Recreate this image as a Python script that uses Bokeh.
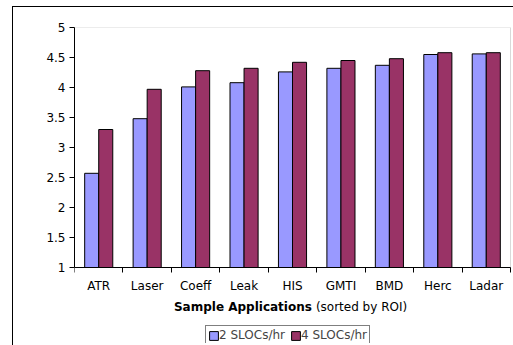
from bokeh.plotting import figure
from bokeh.models import (Range1d, FixedTicker, Legend, LegendItem, Label,
                          ColumnDataSource, LinearAxis, BoxAnnotation)
from bokeh.transform import dodge
from bokeh.embed import file_html
from bokeh.resources import INLINE

# ---- data ----
categories = ["ATR", "Laser", "Coeff", "Leak", "HIS", "GMTI", "BMD", "Herc", "Ladar"]
slocs_2 = [2.57, 3.48, 4.01, 4.08, 4.26, 4.32, 4.37, 4.55, 4.56]
slocs_4 = [3.30, 3.97, 4.28, 4.32, 4.42, 4.45, 4.48, 4.58, 4.58]
y_ticks = [1, 1.5, 2, 2.5, 3, 3.5, 4, 4.5, 5]
y_tick_labels = ["1", "1.5", "2", "2.5", "3", "3.5", "4", "4.5", "5"]
series_names = ["2 SLOCs/hr", "4 SLOCs/hr"]
x_title_bold = "Sample Applications"
x_title_rest = "(sorted by ROI)"

FONT = "DejaVu Sans"
FS = "12px"
BLUE = "#9999FF"
MAROON = "#993366"
GRID = "#808080"

n = len(categories)
ymin, ymax = y_ticks[0], y_ticks[-1]
px_per_unit = 60.0          # vertical scale: 240 px for 4 units
frame_top, frame_bottom = 27, 343
y_start = ymax - (frame_bottom - frame_top) / px_per_unit
x_end = n + 3 / (436 / n)   # small margin right of the plot box

centers = [i + 0.5 for i in range(n)]
src = ColumnDataSource(dict(x=centers, a=slocs_2, b=slocs_4, cat=categories))

p = figure(width=513, height=345, output_backend="svg", toolbar_location=None,
           x_range=Range1d(0, x_end), y_range=Range1d(y_start, ymax),
           min_border_left=74, min_border_right=0, min_border_top=frame_top,
           min_border_bottom=345 - frame_bottom,
           x_axis_type=None, y_axis_type=None,
           styles={"background": "linear-gradient(#000,#000) 12px 6px / 1px 100% no-repeat, "
                                 "linear-gradient(#000,#000) 12px 6px / 100% 1px no-repeat"})

p.outline_line_color = None
p.background_fill_color = "white"
p.border_fill_color = None
p.border_fill_alpha = 0

# y axis
yaxis = LinearAxis(ticker=FixedTicker(ticks=y_ticks, minor_ticks=[]), bounds=(ymin, ymax))
yaxis.major_label_overrides = {t: l for t, l in zip(y_ticks, y_tick_labels)}
yaxis.axis_line_color = "black"
yaxis.major_tick_line_color = "black"
yaxis.major_tick_out = 5
yaxis.major_tick_in = 0
yaxis.minor_tick_line_color = None
yaxis.major_label_standoff = 4
yaxis.major_label_text_font = FONT
yaxis.major_label_text_font_size = FS
yaxis.major_label_text_color = "black"
p.add_layout(yaxis, "left")

p.ygrid.ticker = FixedTicker(ticks=y_ticks)
p.ygrid.grid_line_color = GRID
p.ygrid.grid_line_width = 1
p.xgrid.visible = False

# plot-area box (gray)
p.add_layout(BoxAnnotation(left=0, right=n, bottom=ymin, top=ymax,
                           fill_alpha=0, line_color=GRID, line_width=1, level="underlay"))

bw = 0.29
r1 = p.vbar(x=dodge("x", -bw / 2, range=p.x_range), top="a", bottom=ymin, width=bw,
            source=src, fill_color=BLUE, line_color="black", line_width=1)
r2 = p.vbar(x=dodge("x", bw / 2, range=p.x_range), top="b", bottom=ymin, width=bw,
            source=src, fill_color=MAROON, line_color="black", line_width=1)

# x axis at y = ymin: labels at centers, ticks at boundaries
xaxis = LinearAxis(ticker=FixedTicker(ticks=centers, minor_ticks=list(range(n + 1))),
                   fixed_location=ymin, bounds=(0, n))
xaxis.major_label_overrides = {c: nm for c, nm in zip(centers, categories)}
xaxis.axis_line_color = "black"
xaxis.major_tick_line_color = None
xaxis.major_tick_out = 5
xaxis.minor_tick_line_color = "black"
xaxis.minor_tick_out = 5
xaxis.minor_tick_in = 0
xaxis.major_label_standoff = 6
xaxis.major_label_text_font = FONT
xaxis.major_label_text_font_size = FS
xaxis.major_label_text_color = "black"
p.add_layout(xaxis, "below")

# axis title (bold + normal parts)
xmid = n * 0.5 + 0.40
ytitle = ymin - 39 / px_per_unit
p.add_layout(Label(x=xmid, y=ytitle, text=x_title_bold, text_font=FONT,
                   text_font_size=FS, text_font_style="bold", text_align="right",
                   text_baseline="middle", text_color="black"))
p.add_layout(Label(x=xmid, y=ytitle, x_offset=4, text=x_title_rest, text_font=FONT,
                   text_font_size=FS, text_align="left",
                   text_baseline="middle", text_color="black"))

legend = Legend(items=[LegendItem(label=series_names[0], renderers=[r1]),
                       LegendItem(label=series_names[1], renderers=[r2])],
                location=(131, -2), orientation="horizontal",
                padding=2, spacing=5, margin=0, label_standoff=0,
                glyph_width=11, glyph_height=11, label_height=13, label_width=66,
                label_text_font=FONT, label_text_font_size=FS,
                border_line_color="black", border_line_width=1,
                background_fill_color="white", background_fill_alpha=1)
p.add_layout(legend)

open("out.html", "w").write(file_html(p, INLINE))
